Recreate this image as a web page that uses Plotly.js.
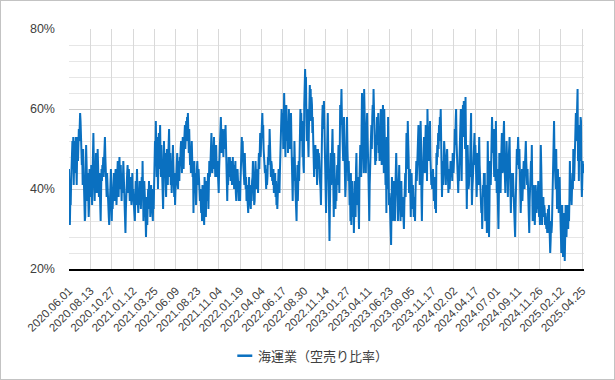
<!DOCTYPE html>
<html>
<head>
<meta charset="utf-8">
<script src="https://cdn.plot.ly/plotly-3.0.1.min.js"></script>
<style>
  html, body { margin: 0; padding: 0; background: #fff; }
  #chart { width: 613px; height: 378px; border: 1px solid #c3c3c3; }
</style>
</head>
<body>
<div id="chart"></div>
<script>
// x-axis tick labels (every 50 trading days)
const tickLabels = [
  '2020.06.01','2020.08.13','2020.10.27','2021.01.12','2021.03.25','2021.06.09',
  '2021.08.23','2021.11.04','2022.01.19','2022.04.04','2022.06.17','2022.08.30',
  '2022.11.14','2023.01.27','2023.04.11','2023.06.23','2023.09.05','2023.11.17',
  '2024.02.02','2024.04.17','2024.07.01','2024.09.11','2024.11.26','2025.02.12',
  '2025.04.25'
];
const tickStep = 50;

// 海運業 short-selling ratio (%), daily
const ratioPart1 = [
  45,33,31,37,36,42,49,44,52,47,53,41,48,52,44,50,53,46,41,49,53,47,50,55,52,56,59,57,52,55,46,48,41,50,44,48,38,32,33,43,51,47,42,37,44,40,33,36,45,39,
  44,38,46,41,36,43,48,54,47,40,37,44,42,49,45,39,43,50,46,41,38,44,36,33,32,39,45,42,46,44,48,43,47,51,53,48,45,41,38,44,40,35,37,33,31,36,42,39,45,41,
  32,38,35,42,39,44,40,37,43,45,41,36,39,44,47,42,38,45,48,43,40,46,41,37,44,39,42,47,45,40,36,33,29,35,41,38,44,46,42,39,45,40,37,43,38,41,36,40,44,39,
  40,37,33,35,32,38,42,36,41,45,39,37,34,40,38,42,36,39,35,41,43,38,47,40,32,37,42,35,39,33,28,34,38,31,36,40,37,42,35,39,33,38,41,36,40,34,32,38,35,41
];
const ratioPart2 = [
  44,52,48,57,50,43,53,46,40,47,54,45,50,56,48,43,51,47,42,38,35,41,52,47,44,49,42,38,45,50,46,41,48,52,55,47,43,49,41,45,39,44,48,51,46,42,38,44,36,40,
  41,46,43,49,44,40,47,45,42,48,46,50,52,47,44,50,53,48,45,51,54,56,50,53,57,52,58,55,59,53,49,55,51,46,50,44,48,52,47,43,46,34,41,47,39,44,42,36,40,45,
  47,44,41,45,39,42,37,40,36,34,38,32,41,37,35,33,31,43,38,36,33,39,42,37,40,44,35,41,47,43,44,49,46,54,50,44,47,51,48,53,45,47,43,49,51,46,43,47,44,41,
  39,45,50,55,52,58,54,49,51,55,52,48,53,50,55,51,56,49,45,42,37,44,41,48,45,43,48,46,42,45,47,41,44,48,43,46,40,44,42,47,39,37,43,40,45,41,38,37,42,40
];
const ratioPart3 = [
  37,42,46,50,53,48,52,47,44,45,41,49,44,40,43,37,41,38,35,34,39,43,38,41,36,35,40,37,42,43,47,44,39,36,37,42,47,44,45,40,43,42,39,46,49,45,51,54,48,50,
  52,56,59,54,56,50,47,49,44,46,42,40,45,41,43,48,46,51,47,55,50,46,43,47,46,42,44,41,45,39,43,40,44,38,42,36,39,35,40,43,45,41,39,44,49,46,53,60,55,59,
  57,50,55,64,58,53,48,56,61,55,52,57,49,54,60,57,50,53,56,59,52,47,43,37,45,48,42,52,47,41,37,34,32,40,46,37,44,47,42,51,56,60,54,59,52,57,48,53,46,44,
  61,66,70,65,68,58,52,60,55,50,48,56,62,66,60,65,57,63,61,54,58,52,47,43,49,45,51,46,50,44,41,48,50,45,49,47,43,42,40,36,50,53,57,61,55,59,62,57,47,40
];
const ratioPart4 = [
  37,34,41,48,55,59,50,43,35,27,36,44,49,41,46,52,55,48,42,33,49,44,38,35,40,37,42,46,41,47,51,45,39,50,61,56,60,65,58,51,54,47,52,58,50,45,38,41,47,52,
  58,50,45,42,47,44,36,40,32,44,31,38,42,36,33,39,29,35,42,37,33,45,49,40,36,43,38,34,30,42,49,51,46,43,55,64,58,52,47,44,65,57,54,48,44,52,57,59,53,50,
  44,38,32,41,49,45,53,56,50,58,61,57,65,60,55,52,46,50,47,53,58,51,55,59,49,53,47,56,52,60,54,46,58,55,61,52,44,60,50,45,41,49,34,53,47,40,58,43,36,39,
  37,33,29,26,35,43,39,32,36,38,42,34,32,40,45,49,44,42,37,32,36,41,46,40,35,32,39,42,36,33,38,35,31,30,36,40,44,38,47,54,50,45,57,52,48,39,42,45,38,33
];
const ratioPart5 = [
  40,44,38,35,41,37,33,38,34,32,39,43,47,42,45,49,53,56,50,45,41,47,57,52,38,32,40,46,42,50,53,47,44,51,56,49,53,42,60,54,50,47,52,55,57,48,45,41,44,40,
  41,45,39,37,43,40,35,38,34,49,46,51,48,54,50,56,52,58,55,60,51,44,38,43,47,41,45,52,50,47,44,41,46,49,50,46,43,39,42,45,40,44,47,43,47,45,42,49,46,44,
  46,50,55,51,57,60,52,47,43,45,39,44,42,48,55,52,60,49,42,53,57,61,53,62,55,59,50,63,53,44,35,44,51,46,40,41,45,43,48,53,59,44,36,40,42,46,44,49,54,46,
  51,47,43,38,42,49,45,41,47,53,46,41,36,39,34,37,30,35,41,38,44,40,44,32,36,41,37,29,39,52,44,34,28,36,47,43,41,50,46,58,53,49,55,48,43,55,47,42,57,45
];
const ratioPart6 = [
  39,45,41,35,30,38,49,44,42,39,46,50,54,47,44,51,53,57,48,43,39,47,44,52,46,41,38,45,49,47,53,45,42,34,40,44,38,42,44,40,37,36,32,28,35,43,47,50,46,53,
  53,49,45,50,45,40,34,38,42,45,37,41,44,47,43,40,46,49,52,47,44,41,45,38,42,35,29,37,42,43,47,44,51,40,32,37,41,39,35,31,36,41,38,34,38,35,40,42,36,33,
  36,31,42,51,46,40,31,37,34,38,33,36,35,31,34,32,30,33,29,32,35,29,36,31,28,24,27,32,29,31,38,44,46,52,57,48,42,45,40,50,46,35,43,45,39,34,41,43,37,30,
  28,24,33,36,29,23,31,34,30,22,28,36,33,28,31,36,33,30,35,32,38,47,41,37,39,36,41,44,40,50,48,42,46,50,55,59,52,57,60,65,47,53,42,56,50,47,58,57,43,38,
  42,47,44,46,46
];

const seriesName = '海運業（空売り比率）';
const yTicks = [20, 40, 60, 80];
const yTickLabels = ['20%', '40%', '60%', '80%'];

const ratio = [].concat(ratioPart1, ratioPart2, ratioPart3, ratioPart4, ratioPart5, ratioPart6);
const xIdx = ratio.map((_, i) => i);
const tickVals = tickLabels.map((_, i) => i * tickStep);

const lineColor = '#0a70c0';
const fontFam = "'Liberation Sans', Arial, 'Noto Sans CJK JP', sans-serif";

Plotly.newPlot('chart', [{
  type: 'scatter',
  mode: 'lines',
  x: xIdx,
  y: ratio,
  name: seriesName,
  line: { color: lineColor, width: 2 },
  showlegend: false,
  hoverinfo: 'skip'
}], {
  width: 613,
  height: 378,
  margin: { l: 68, r: 30, t: 28, b: 110 },
  paper_bgcolor: '#ffffff',
  plot_bgcolor: '#ffffff',
  font: { family: fontFam, color: '#404040', size: 12 },
  xaxis: {
    range: [0, ratio.length - 1],
    tickmode: 'array',
    tickvals: tickVals,
    ticktext: tickLabels,
    tickangle: -45,
    tickfont: { size: 11.5, color: '#404040' },
    ticklabelstandoff: 9,
    showgrid: true,
    gridcolor: '#d9d9d9',
    gridwidth: 1,
    showline: true,
    linecolor: '#000000',
    linewidth: 1.6,
    ticks: '',
    zeroline: false,
    fixedrange: true
  },
  yaxis: {
    range: [20, 80],
    tickmode: 'array',
    tickvals: yTicks,
    ticktext: yTickLabels,
    tickfont: { size: 12.5, color: '#404040' },
    showgrid: true,
    gridcolor: '#cdcdcd',
    gridwidth: 1,
    minor: { dtick: 4, tick0: 20, showgrid: true, gridcolor: '#e6e6e6', gridwidth: 1 },
    zeroline: false,
    showline: false,
    ticks: '',
    ticklabelstandoff: 13,
    fixedrange: true
  },
  shapes: [{
    type: 'line', xref: 'paper', yref: 'paper',
    x0: 0.3268, x1: 0.3559, y0: -0.3613, y1: -0.3613,
    line: { color: lineColor, width: 2.5 }
  }],
  annotations: [{
    xref: 'paper', yref: 'paper',
    x: 0.3631, y: -0.3613, xanchor: 'left', yanchor: 'middle',
    text: seriesName, showarrow: false,
    font: { family: "'Noto Sans CJK JP', sans-serif", size: 13, color: '#404040' }
  }]
}, { staticPlot: true, displayModeBar: false });
</script>
</body>
</html>
